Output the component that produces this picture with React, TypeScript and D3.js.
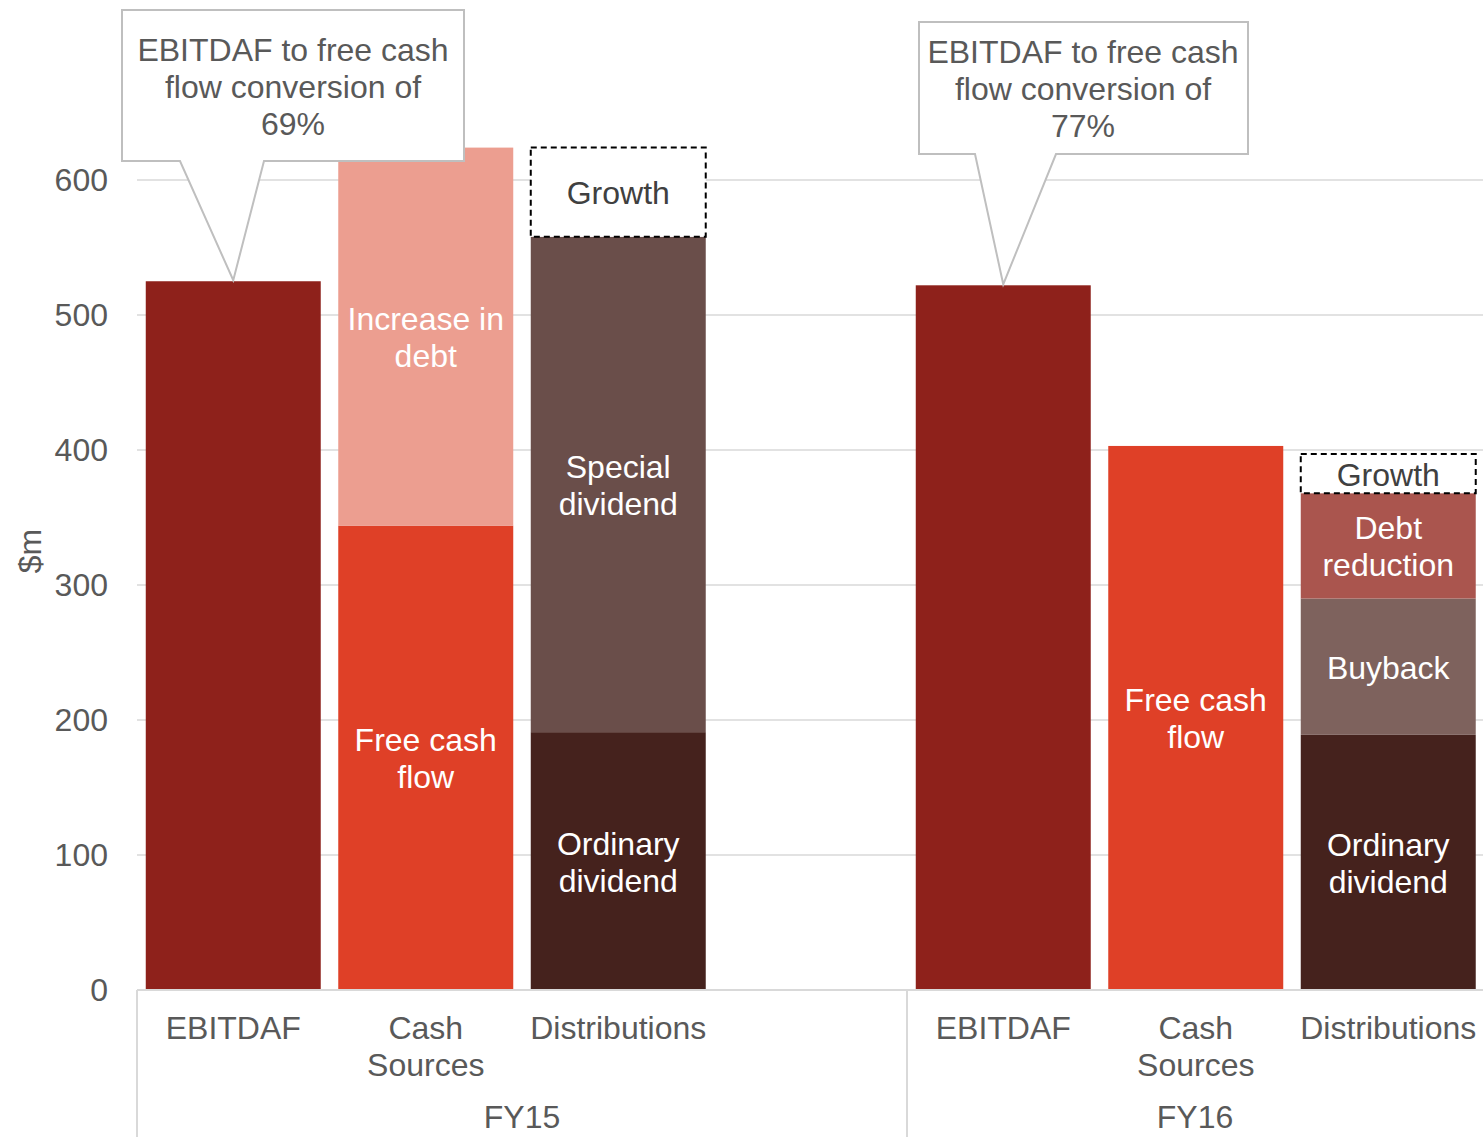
import React from "react";
import * as d3 from "d3";

const slots = ["FY15|EBITDAF", "FY15|Cash Sources", "FY15|Distributions", "FY15|blank", "FY16|EBITDAF", "FY16|Cash Sources", "FY16|Distributions"];
const categoryLabels = ["EBITDAF", "Cash\nSources", "Distributions", "", "EBITDAF", "Cash\nSources", "Distributions"];
const groups = ["FY15", "FY16"];
const yTicks = [0, 100, 200, 300, 400, 500, 600];

const fy15Ebitdaf = [{ name: "", value: 525, key: "ebitdaf" }];
const fy15Sources = [
  { name: "Free cash\nflow", value: 344, key: "fcf" },
  { name: "Increase in\ndebt", value: 280, key: "debt" },
];
const fy15Dist = [
  { name: "Ordinary\ndividend", value: 191, key: "ordinary" },
  { name: "Special\ndividend", value: 367, key: "special" },
  { name: "Growth", value: 66, key: "growth" },
];
const fy16Ebitdaf = [{ name: "", value: 522, key: "ebitdaf" }];
const fy16Sources = [{ name: "Free cash\nflow", value: 403, key: "fcf" }];
const fy16Dist = [
  { name: "Ordinary\ndividend", value: 189, key: "ordinary" },
  { name: "Buyback", value: 101, key: "buyback" },
  { name: "Debt\nreduction", value: 78, key: "debtred" },
  { name: "Growth", value: 29, key: "growth" },
];
const callouts = [
  { slot: "FY15|EBITDAF", text: ["EBITDAF to free cash", "flow conversion of", "69%"] },
  { slot: "FY16|EBITDAF", text: ["EBITDAF to free cash", "flow conversion of", "77%"] },
];

const colors: Record<string, string> = {
  ebitdaf: "#8E211B",
  fcf: "#DF4027",
  debt: "#EC9E90",
  ordinary: "#45221D",
  special: "#6A4E4A",
  buyback: "#7E625D",
  debtred: "#AA554E",
  growth: "#ffffff",
};

const W = 1483;
const H = 1137;
const FONT = "'Liberation Sans', Arial, sans-serif";
const GREY = "#595959";
const FS = 32;

export default function App() {
  const x = d3.scaleBand<string>().domain(slots).range([137, 137 + 7 * 192.5]).paddingInner(0.091).paddingOuter(0.0455);
  const y = d3.scaleLinear().domain([0, 600]).range([990, 180]);

  const data: Record<string, { name: string; value: number; key: string }[]> = {
    "FY15|EBITDAF": fy15Ebitdaf,
    "FY15|Cash Sources": fy15Sources,
    "FY15|Distributions": fy15Dist,
    "FY16|EBITDAF": fy16Ebitdaf,
    "FY16|Cash Sources": fy16Sources,
    "FY16|Distributions": fy16Dist,
  };

  const bars: React.ReactNode[] = [];
  const labels: React.ReactNode[] = [];
  Object.entries(data).forEach(([slot, segs]) => {
    let cum = 0;
    const x0 = x(slot)!;
    const bw = x.bandwidth();
    segs.forEach((s, i) => {
      const y0 = y(cum);
      const y1 = y(cum + s.value);
      cum += s.value;
      const isGrowth = s.key === "growth";
      bars.push(
        <rect
          key={slot + i}
          x={x0}
          y={y1}
          width={bw}
          height={y0 - y1}
          fill={isGrowth ? "#fff" : colors[s.key]}
          stroke={isGrowth ? "#000" : "none"}
          strokeWidth={isGrowth ? 2 : 0}
          strokeDasharray={isGrowth ? "6,4" : undefined}
        />
      );
      if (s.name) {
        const lines = s.name.split("\n");
        const cy = (y0 + y1) / 2;
        const lh = 37;
        lines.forEach((ln, j) => {
          labels.push(
            <text
              key={slot + i + "t" + j}
              x={x0 + bw / 2}
              y={cy + (j - (lines.length - 1) / 2) * lh + 1}
              textAnchor="middle"
              dominantBaseline="central"
              fontSize={FS}
              fill={isGrowth ? "#404040" : "#ffffff"}
            >
              {ln}
            </text>
          );
        });
      }
    });
  });

  const calloutEls = callouts.map((c, i) => {
    const cx = x(c.slot)! + x.bandwidth() / 2;
    const tipY = y(data[c.slot][0].value) - 1;
    const box = i === 0
      ? { x0: 122, x1: 464, y0: 10, y1: 161, b0: 180, b1: 264, tx: cx, textCx: 293, ty: 50 }
      : { x0: 919, x1: 1248, y0: 22, y1: 154, b0: 975, b1: 1056, tx: cx, textCx: 1083, ty: 52 };
    const path = `M${box.x0},${box.y0}H${box.x1}V${box.y1}H${box.b1}L${box.tx},${tipY}L${box.b0},${box.y1}H${box.x0}Z`;
    return (
      <g key={"c" + i}>
        <path d={path} fill="#fff" stroke="#bfbfbf" strokeWidth={2} />
        {c.text.map((t, j) => (
          <text key={j} x={box.textCx} y={box.ty + j * 37} textAnchor="middle" dominantBaseline="central" fontSize={FS} fill={GREY}>
            {t}
          </text>
        ))}
      </g>
    );
  });

  return (
    <div style={{ position: "absolute", left: 0, top: 0 }}>
      <svg width={W} height={H} style={{ display: "block", fontFamily: FONT }}>
        <rect width={W} height={H} fill="#fff" />
        {yTicks.filter((t) => t > 0).map((t) => (
          <line key={t} x1={137} x2={W} y1={y(t)} y2={y(t)} stroke="#d9d9d9" strokeWidth={1.5} />
        ))}
        {yTicks.map((t) => (
          <text key={"l" + t} x={108} y={y(t)} textAnchor="end" dominantBaseline="central" fontSize={FS} fill={GREY}>
            {t}
          </text>
        ))}
        <text transform={`translate(30,551) rotate(-90)`} textAnchor="middle" dominantBaseline="central" fontSize={FS} fill={GREY}>
          $m
        </text>
        {bars}
        {labels}
        <line x1={137} x2={W} y1={y(0)} y2={y(0)} stroke="#d9d9d9" strokeWidth={2} />
        {[0, 4].map((i) => {
          const xs = x(slots[i])! - (x.step() - x.bandwidth()) / 2;
          return <line key={"sep" + i} x1={xs} x2={xs} y1={y(0)} y2={H} stroke="#d9d9d9" strokeWidth={2} />;
        })}
        {slots.map((s, i) => {
          const lines = categoryLabels[i].split("\n").filter((l) => l);
          return lines.map((ln, j) => (
            <text key={s + j} x={x(s)! + x.bandwidth() / 2} y={1028 + j * 37} textAnchor="middle" dominantBaseline="central" fontSize={FS} fill={GREY}>
              {ln}
            </text>
          ));
        })}
        {groups.map((g, i) => {
          const start = x(slots[i * 4])! - (x.step() - x.bandwidth()) / 2;
          const end = i === 0 ? x(slots[4])! - (x.step() - x.bandwidth()) / 2 : W;
          return (
            <text key={g} x={(start + end) / 2} y={1117} textAnchor="middle" dominantBaseline="central" fontSize={FS} fill={GREY}>
              {g}
            </text>
          );
        })}
        {calloutEls}
      </svg>
    </div>
  );
}
